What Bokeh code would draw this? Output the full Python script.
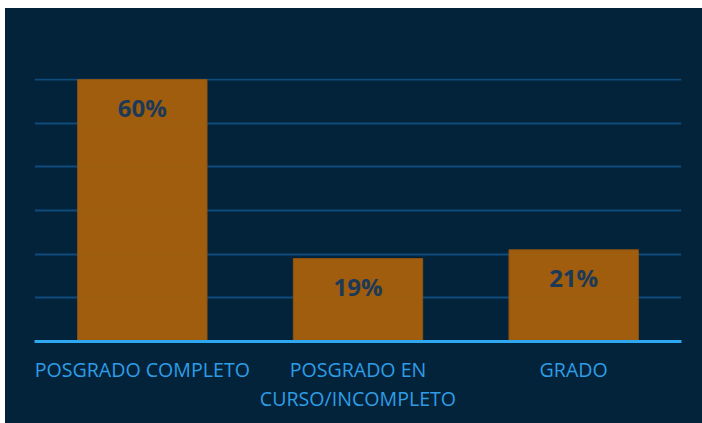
from bokeh.plotting import figure
from bokeh.models import ColumnDataSource, SingleIntervalTicker, Range1d, Spacer
from bokeh.layouts import column, row
from bokeh.core.properties import value
from bokeh.embed import file_html
from bokeh.resources import INLINE

categories = ["POSGRADO COMPLETO", "POSGRADO EN\nCURSO/INCOMPLETO", "GRADO"]
values = [0.60, 0.19, 0.21]
labels = ["60%", "19%", "21%"]

source = ColumnDataSource(data=dict(cat=categories, val=values, lab=labels))

BG = "#03233a"

p = figure(
    x_range=categories,
    y_range=Range1d(0, 0.6023),
    width=697,
    height=415,
    output_backend="svg",
    toolbar_location=None,
    min_border_left=29,
    min_border_right=21,
    min_border_top=70,
    min_border_bottom=82,
)
p.background_fill_color = BG
p.border_fill_color = BG
p.outline_line_color = None
p.styles = {"background-color": BG}

p.vbar(x="cat", top="val", width=0.6, source=source,
       fill_color="#a6600b", fill_alpha=0.96,
       line_color="#8c5312", line_width=1)

p.text(x="cat", y="val", text="lab", source=source,
       y_offset=28, text_align="center", text_baseline="middle",
       text_font=value("Open Sans"), text_font_style="bold",
       text_font_size="24px", text_color="#1c3a58")

p.yaxis.visible = False
p.xgrid.grid_line_color = None
p.ygrid.ticker = SingleIntervalTicker(interval=0.1)
p.ygrid.grid_line_color = "#0e4c7c"
p.ygrid.grid_line_width = 2

ax = p.xaxis[0]
ax.axis_line_color = "#2ea8f0"
ax.axis_line_width = 3
ax.major_tick_line_color = None
ax.minor_tick_line_color = None
ax.major_tick_out = 0
ax.major_label_standoff = 14
ax.major_label_text_color = "#2e9de6"
ax.major_label_text_font = "Open Sans"
ax.major_label_text_font_size = "19.6px"
ax.major_label_text_line_height = 1.1
ax.major_label_orientation = "horizontal"

layout = column(Spacer(height=8), row(Spacer(width=5), p))

open("out.html", "w").write(file_html(layout, INLINE))
